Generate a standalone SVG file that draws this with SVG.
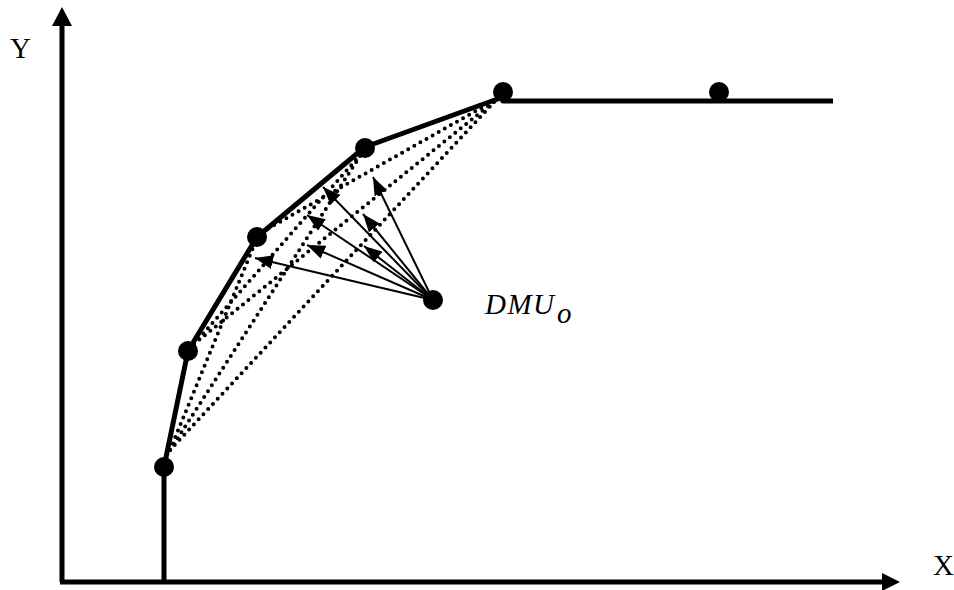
<svg xmlns="http://www.w3.org/2000/svg" width="954" height="590" viewBox="0 0 954 590">
<style>
.axis{stroke:#000;stroke-width:5;fill:none}
.front{stroke:#000;stroke-width:5;fill:none;stroke-linejoin:round}
.dot{stroke:#000;stroke-width:4;stroke-dasharray:0 7;stroke-linecap:round;fill:none}
.arr{stroke:#000;stroke-width:2;fill:none;marker-end:url(#ah)}
.pt{fill:#000}
.lbl{font-family:'Liberation Serif','Times New Roman',serif;font-size:29px;fill:#000}
</style>
<defs>
<marker id="ah" viewBox="0 0 18 14" refX="18" refY="7" markerWidth="18" markerHeight="14" markerUnits="userSpaceOnUse" orient="auto">
<path d="M0,0 L18,7 L0,14 Z" fill="#000"/>
</marker>
</defs>
<rect width="954" height="590" fill="#fff"/>
<g id="axes">
<line class="axis" x1="62" y1="582" x2="62" y2="25"/>
<polygon points="52,26 72,26 62,7" fill="#000"/>
<line class="axis" x1="60" y1="582" x2="882" y2="582"/>
<polygon points="882,573 882,591 900,582" fill="#000"/>
<text class="lbl" x="10" y="58">Y</text>
<text class="lbl" x="933" y="575">X</text>
</g>
<g id="connectors">
<polyline class="front" points="164,580 164,467 188,351 257,237 365,147 503,97 503,101 833,101"/>
<line class="dot" x1="170" y1="450" x2="255" y2="243"/>
<line class="dot" x1="170" y1="450" x2="362" y2="153"/>
<line class="dot" x1="170" y1="450" x2="497" y2="99"/>
<line class="dot" x1="194" y1="344" x2="362" y2="153"/>
<line class="dot" x1="194" y1="344" x2="497" y2="99"/>
<line class="dot" x1="262" y1="232" x2="497" y2="99"/>
<line class="arr" x1="433" y1="300" x2="255" y2="258"/>
<line class="arr" x1="433" y1="300" x2="307" y2="245"/>
<line class="arr" x1="433" y1="300" x2="307" y2="215"/>
<line class="arr" x1="433" y1="300" x2="323" y2="187"/>
<line class="arr" x1="433" y1="300" x2="364" y2="246"/>
<line class="arr" x1="433" y1="300" x2="363" y2="214"/>
<line class="arr" x1="433" y1="300" x2="373" y2="177"/>
</g>
<g id="nodeA"><circle class="pt" cx="164" cy="467" r="10"/></g>
<g id="nodeB"><circle class="pt" cx="188" cy="351" r="10"/></g>
<g id="nodeC"><circle class="pt" cx="257" cy="237" r="10"/></g>
<g id="nodeD"><circle class="pt" cx="365" cy="148" r="10"/></g>
<g id="nodeE"><circle class="pt" cx="503" cy="92" r="10"/></g>
<g id="nodeF"><circle class="pt" cx="719" cy="92" r="10"/></g>
<g id="dmu">
<circle class="pt" cx="433" cy="300" r="10"/>
<text class="lbl" x="485" y="314" font-style="italic" letter-spacing="1.5">DMU</text>
<text class="lbl" x="557" y="323" font-style="italic" font-size="18">o</text>
</g>
</svg>
